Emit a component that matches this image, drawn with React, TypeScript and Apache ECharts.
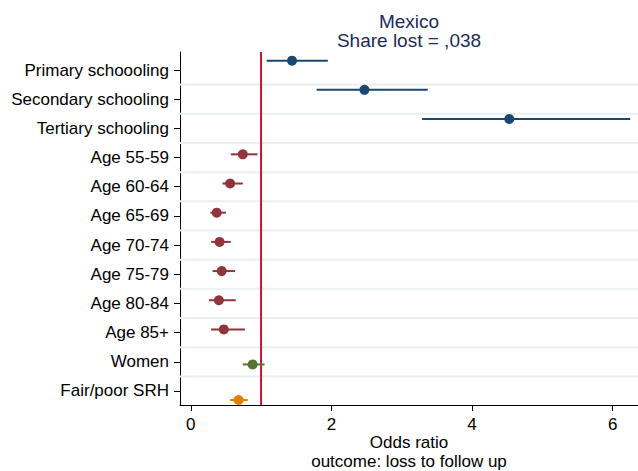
import React, { useEffect, useRef } from "react";
import * as echarts from "echarts";

const categories = [
  "Primary schoooling",
  "Secondary schooling",
  "Tertiary schooling",
  "Age 55-59",
  "Age 60-64",
  "Age 65-69",
  "Age 70-74",
  "Age 75-79",
  "Age 80-84",
  "Age 85+",
  "Women",
  "Fair/poor SRH",
];
const estimates = [1.44, 2.47, 4.53, 0.74, 0.56, 0.37, 0.41, 0.44, 0.4, 0.47, 0.88, 0.68];
const lowerCI = [1.08, 1.79, 3.29, 0.57, 0.45, 0.28, 0.29, 0.31, 0.26, 0.29, 0.74, 0.56];
const upperCI = [1.95, 3.37, 6.25, 0.95, 0.74, 0.5, 0.57, 0.63, 0.64, 0.77, 1.05, 0.81];
const groupOf = [0, 0, 0, 1, 1, 1, 1, 1, 1, 1, 2, 3];
const groupColors = ["#1a476f", "#90353b", "#55752f", "#e37e00"];
const groupOffsets = [-0.32, -0.11, 0.09, 0.31];
const xTicks = [0, 2, 4, 6];
const refLineX = 1;
const titleLines = ["Mexico", "Share lost = ,038"];
const xTitleLines = ["Odds ratio", "outcome: loss to follow up"];

const FONT = "'Liberation Sans', Arial, Helvetica, sans-serif";
const Y_MIN = -0.617;
const Y_MAX = 11.48;

export default function App() {
  const ref = useRef<HTMLDivElement>(null);
  useEffect(() => {
    if (!ref.current) return;
    const chart = echarts.init(ref.current, undefined, { renderer: "svg" });

    const groupSeries = groupColors.map((color, g) => {
      const data: number[][] = [];
      categories.forEach((_, i) => {
        if (groupOf[i] === g) {
          data.push([estimates[i], lowerCI[i], upperCI[i], i + groupOffsets[g]]);
        }
      });
      return {
        type: "custom",
        z: 5,
        data,
        encode: { x: [0, 1, 2], y: 3 },
        renderItem: (params: any, api: any) => {
          const y = api.value(3);
          const p = api.coord([api.value(0), y]);
          const lo = api.coord([api.value(1), y]);
          const hi = api.coord([api.value(2), y]);
          return {
            type: "group",
            children: [
              {
                type: "line",
                shape: { x1: lo[0], y1: lo[1], x2: hi[0], y2: hi[1] },
                style: { stroke: color, lineWidth: 2 },
              },
              {
                type: "circle",
                shape: { cx: p[0], cy: p[1], r: 5 },
                style: { fill: color },
              },
            ],
          };
        },
      };
    });

    const gridLineData = categories.slice(0, -1).map((_, i) => [i + 0.5]);

    const option: any = {
      animation: false,
      grid: { left: 180, right: 0, top: 52, bottom: 66 },
      xAxis: {
        type: "value",
        min: -0.153,
        max: 6.36,
        splitLine: { show: false },
        axisLine: { show: true, onZero: false, lineStyle: { color: "#000", width: 1 } },
        axisTick: { show: true, length: 6, customValues: xTicks, lineStyle: { color: "#000" } },
        axisLabel: {
          customValues: xTicks,
          fontSize: 17,
          color: "#000",
          fontFamily: FONT,
          margin: 11,
        },
      },
      yAxis: {
        type: "value",
        inverse: true,
        min: Y_MIN,
        max: Y_MAX,
        splitLine: { show: false },
        axisLine: { show: true, onZero: false, lineStyle: { color: "#000", width: 1 } },
        axisTick: {
          show: true,
          length: 6,
          customValues: categories.map((_, i) => i),
          lineStyle: { color: "#000" },
        },
        axisLabel: {
          customValues: categories.map((_, i) => i),
          formatter: (v: number) => categories[Math.round(v)] ?? "",
          fontSize: 17,
          color: "#000",
          fontFamily: FONT,
          margin: 11,
        },
      },
      graphic: [
        ...titleLines.map((t, k) => ({
          type: "text",
          x: 409,
          y: 21 + k * 19.5,
          style: {
            text: t,
            fontSize: 19,
            fontFamily: FONT,
            fill: "#1c2b5a",
            textAlign: "center",
            textVerticalAlign: "middle",
          },
        })),
        ...xTitleLines.map((t, k) => ({
          type: "text",
          x: 409,
          y: 442 + k * 19,
          style: {
            text: t,
            fontSize: 17,
            fontFamily: FONT,
            fill: "#000",
            textAlign: "center",
            textVerticalAlign: "middle",
          },
        })),
      ],
      series: [
        {
          type: "custom",
          z: 1,
          data: gridLineData,
          encode: { y: 0 },
          renderItem: (params: any, api: any) => {
            const cs = params.coordSys;
            const y = api.coord([0, api.value(0)])[1];
            return {
              type: "line",
              shape: { x1: cs.x, y1: y, x2: cs.x + cs.width, y2: y },
              style: { stroke: "#eaeff3", lineWidth: 2 },
            };
          },
        },
        {
          type: "custom",
          z: 3,
          data: [[refLineX]],
          encode: { x: 0 },
          renderItem: (params: any, api: any) => {
            const cs = params.coordSys;
            const x = api.coord([api.value(0), 0])[0];
            return {
              type: "line",
              shape: { x1: x, y1: cs.y, x2: x, y2: cs.y + cs.height },
              style: { stroke: "#c8102e", lineWidth: 2 },
            };
          },
        },
        ...groupSeries,
      ],
    };
    chart.setOption(option);
    return () => chart.dispose();
  }, []);
  return (
    <div
      ref={ref}
      style={{ position: "fixed", left: 0, top: 0, width: 638, height: 471, background: "#fff" }}
    />
  );
}
